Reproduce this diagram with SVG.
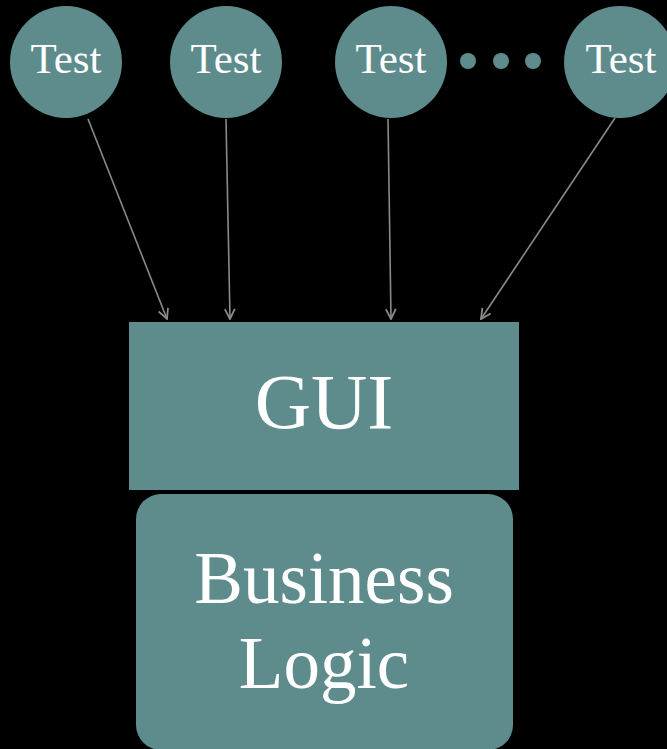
<svg xmlns="http://www.w3.org/2000/svg" width="667" height="749" viewBox="0 0 667 749">
<defs>
<style>
.node{fill:#5e8b8b}
.t{fill:#fff;font-family:"Liberation Serif","Times New Roman",serif;text-anchor:middle}
.edge{stroke:#8a8a8a;stroke-width:1.6;fill:none;marker-end:url(#ah)}
</style>
<marker id="ah" viewBox="0 0 12 12" refX="11" refY="6" markerWidth="12" markerHeight="12" markerUnits="userSpaceOnUse" orient="auto">
<path d="M1,1 L11,6 L1,11" fill="none" stroke="#8a8a8a" stroke-width="1.8"/>
</marker>
</defs>
<rect width="667" height="749" fill="#000"/>
<g id="connectors">
<line class="edge" x1="88" y1="119" x2="167" y2="319"/>
<line class="edge" x1="226" y1="119" x2="230" y2="319"/>
<line class="edge" x1="388" y1="119" x2="391" y2="319"/>
<line class="edge" x1="615" y1="118" x2="481" y2="319"/>
</g>
<g id="test1"><circle class="node" cx="66" cy="62" r="56"/><text class="t" x="66" y="73" font-size="43">Test</text></g>
<g id="test2"><circle class="node" cx="226" cy="62" r="56"/><text class="t" x="226" y="73" font-size="43">Test</text></g>
<g id="test3"><circle class="node" cx="391" cy="62" r="56"/><text class="t" x="391" y="73" font-size="43">Test</text></g>
<g id="ellipsis"><circle class="node" cx="468" cy="61" r="8"/><circle class="node" cx="501" cy="61" r="8"/><circle class="node" cx="533" cy="61" r="8"/></g>
<g id="test4"><circle class="node" cx="620" cy="62" r="56"/><text class="t" x="621" y="73" font-size="43">Test</text></g>
<g id="gui"><rect class="node" x="129" y="322" width="390" height="168"/><text class="t" x="324" y="428" font-size="78">GUI</text></g>
<g id="business"><rect class="node" x="136" y="494" width="377" height="256" rx="25"/><text class="t" x="324" y="603" font-size="73">Business</text><text class="t" x="324" y="688" font-size="73">Logic</text></g>
</svg>
